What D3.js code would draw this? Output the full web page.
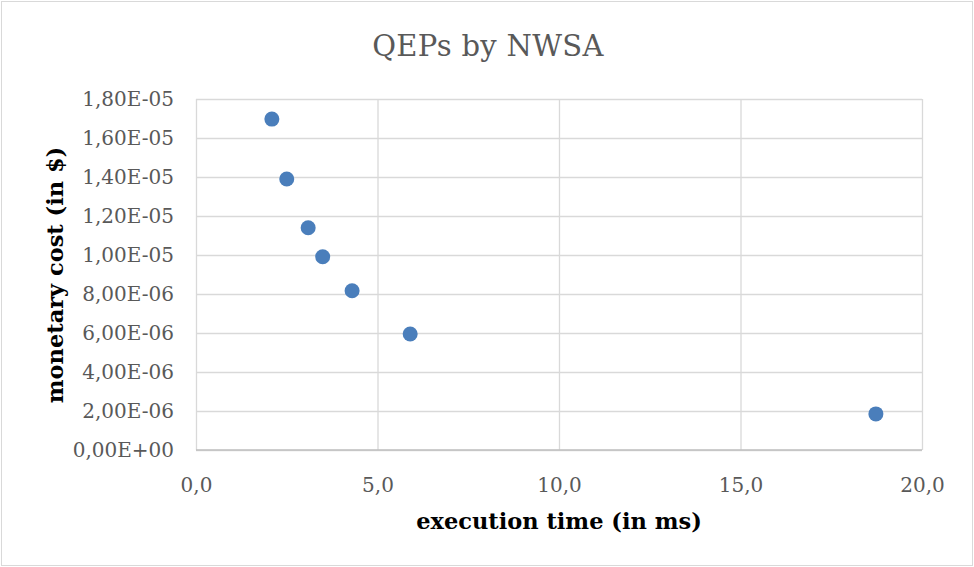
<!DOCTYPE html>
<html>
<head>
<meta charset="utf-8">
<script src="https://cdn.jsdelivr.net/npm/d3@7"></script>
<style>
  html, body { margin: 0; padding: 0; background: #fff; }
  svg { display: block; }
</style>
</head>
<body>
<svg id="chart" width="974" height="567"></svg>
<script>
// execution time (ms) and monetary cost ($) for each QEP
const execTime = [2.09, 2.50, 3.09, 3.49, 4.30, 5.90, 18.73];
const monetaryCost = [1.697e-5, 1.39e-5, 1.14e-5, 0.991e-5, 0.817e-5, 0.595e-5, 0.185e-5];
const xTicks = [0, 5, 10, 15, 20];
const yTicks = [0, 2e-6, 4e-6, 6e-6, 8e-6, 1e-5, 1.2e-5, 1.4e-5, 1.6e-5, 1.8e-5];

const svg = d3.select("#chart");
const svgWidth = +svg.attr("width");
const svgHeight = +svg.attr("height");

const margin = {left: 196, right: svgWidth - 922, top: 99, bottom: svgHeight - 450};

const x = d3.scaleLinear().domain([0, 20]).range([margin.left, svgWidth - margin.right]);
const y = d3.scaleLinear().domain([0, 1.8e-5]).range([svgHeight - margin.bottom, margin.top]);

// outer chart frame
svg.append("rect")
    .attr("x", 1.5).attr("y", 1.5)
    .attr("width", svgWidth - 3).attr("height", svgHeight - 3)
    .attr("fill", "#fff")
    .attr("stroke", "#d9d9d9")
    .attr("stroke-width", 1);

const fmtX = v => d3.format(".1f")(v).replace(".", ",");
const fmtY = function(v) {
    let s = v.toExponential(2).toUpperCase();     // 1.80E-5
    s = s.replace(/E([+-])(\d)$/, "E$10$2");       // 1.80E-05
    return s.replace(".", ",");
};

// gridlines + tick labels
svg.append("g")
    .attr("transform", `translate(${margin.left},0)`)
    .call(d3.axisLeft(y).tickValues(yTicks).tickSize(-(x.range()[1] - x.range()[0])).tickFormat(fmtY).tickPadding(22))
    .call(g => g.select(".domain").remove())
    .call(g => g.selectAll("line").attr("stroke", "#d9d9d9").attr("stroke-width", 1.3))
    .call(g => g.selectAll("text")
        .attr("fill", "#595959")
        .style("font-family", "'DejaVu Serif', serif")
        .style("font-size", "20px"));

svg.append("g")
    .attr("transform", `translate(0,${svgHeight - margin.bottom})`)
    .call(d3.axisBottom(x).tickValues(xTicks).tickSize(-(y.range()[0] - y.range()[1])).tickFormat(fmtX).tickPadding(28))
    .call(g => g.select(".domain").remove())
    .call(g => g.selectAll("line").attr("stroke", "#d9d9d9").attr("stroke-width", 1.3))
    .call(g => g.selectAll("text")
        .attr("fill", "#595959")
        .style("font-family", "'DejaVu Serif', serif")
        .style("font-size", "20px"));

// bottom line of the plot a little darker, like the axis line
svg.append("line")
    .attr("x1", x(0)).attr("x2", x(20))
    .attr("y1", y(0)).attr("y2", y(0))
    .attr("stroke", "#bfbfbf")
    .attr("stroke-width", 1.3);

// points
svg.append("g")
    .selectAll("circle")
    .data(execTime.map((t, i) => ({t: t, c: monetaryCost[i]})))
    .enter()
    .append("circle")
    .attr("cx", d => x(d.t))
    .attr("cy", d => y(d.c))
    .attr("r", 7.5)
    .attr("fill", "#4a7ebb");

// title
svg.append("text")
    .attr("x", 488)
    .attr("y", 56)
    .attr("text-anchor", "middle")
    .attr("fill", "#595959")
    .style("font-family", "'DejaVu Serif', serif")
    .style("font-size", "29px")
    .style("letter-spacing", "0.3px")
    .text("QEPs by NWSA");

// axis titles
svg.append("text")
    .attr("x", 559)
    .attr("y", 529)
    .attr("text-anchor", "middle")
    .attr("fill", "#000")
    .style("font-family", "'DejaVu Serif', serif")
    .style("font-weight", "bold")
    .style("font-size", "22.5px")
    .text("execution time (in ms)");

svg.append("text")
    .attr("transform", `translate(63,275) rotate(-90)`)
    .attr("text-anchor", "middle")
    .attr("fill", "#000")
    .style("font-family", "'DejaVu Serif', serif")
    .style("font-weight", "bold")
    .style("font-size", "22.5px")
    .text("monetary cost (in $)");
</script>
</body>
</html>
